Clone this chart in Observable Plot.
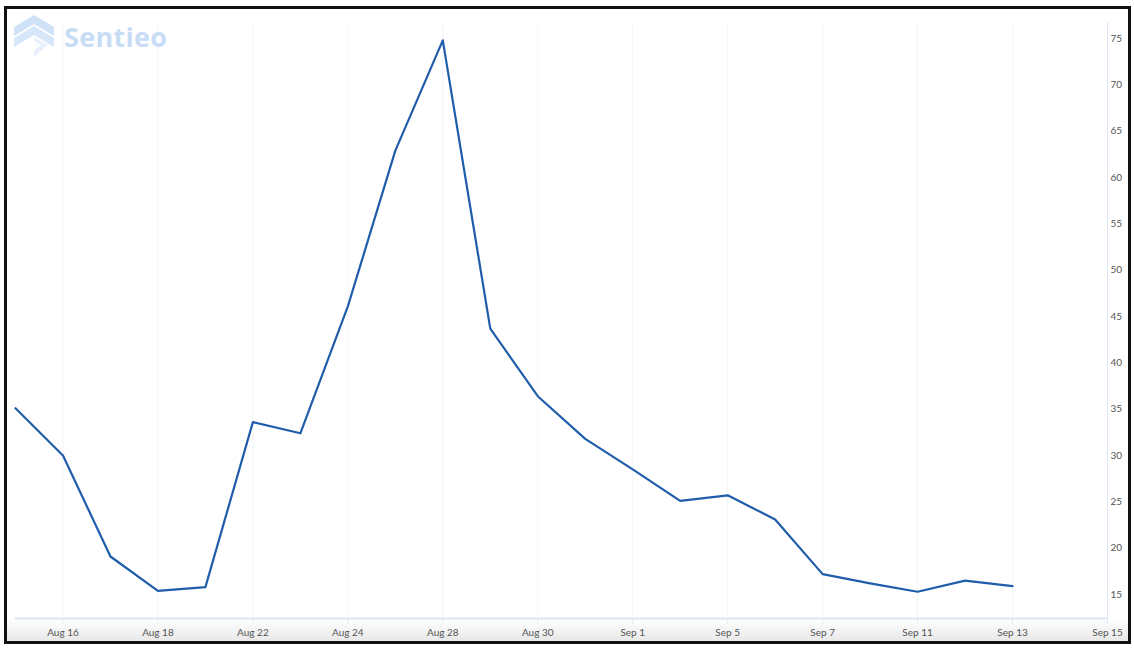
<!DOCTYPE html>
<html>
<head>
<meta charset="utf-8">
<script src="https://cdn.jsdelivr.net/npm/d3@7"></script>
<script src="https://cdn.jsdelivr.net/npm/@observablehq/plot@0.6"></script>
<style>
  html, body { margin: 0; padding: 0; background: #fff; }
  #wrap { position: relative; width: 1134px; height: 650px; overflow: hidden; font-family: Lato, "Open Sans", sans-serif; }
  #band { position: absolute; left: 7px; top: 619px; width: 1121px; height: 22px; background: linear-gradient(#ffffff, #e8e8e8); }
  #chart { position: absolute; left: 0; top: 0; }
  #frame { position: absolute; left: 4px; top: 6px; width: 1127px; height: 638px; box-sizing: border-box; border: 3px solid #111; pointer-events: none; }
  #logo { position: absolute; left: 14px; top: 13px; display: flex; align-items: center; pointer-events: none; }
  #logo span { font-family: "Open Sans", Lato, sans-serif; font-weight: 700; font-size: 27px; color: #c8dcf6; margin-left: 10px; letter-spacing: 0.3px; }
</style>
</head>
<body>
<div id="wrap">
  <div id="band"></div>
  <div id="chart"></div>
  <div id="logo">
    <svg width="40" height="46" viewBox="0 0 40 46">
      <polygon points="0,14 20,2 40,14 40,23 20,11 0,23" fill="#d0e2f8"/>
      <polygon points="0,25 20,13 40,25 40,34 20,22 0,34" fill="#d8e6f9"/>
      <polygon points="20,24 34,32 20,44 20,38 27,32 20,28" fill="#e8f0fb"/>
    </svg>
    <span>Sentieo</span>
  </div>
  <div id="frame"></div>
</div>
<script>
// Trading-day categories along the x axis
const dates = ["Aug 15","Aug 16","Aug 17","Aug 18","Aug 21","Aug 22","Aug 23","Aug 24","Aug 25","Aug 28","Aug 29","Aug 30","Aug 31","Sep 1","Sep 4","Sep 5","Sep 6","Sep 7","Sep 8","Sep 11","Sep 12","Sep 13","Sep 14","Sep 15"];
// Series values (one per trading day up to Sep 13)
const values = [35.1, 30.0, 19.1, 15.4, 15.8, 33.6, 32.4, 46.1, 62.9, 74.8, 43.7, 36.4, 31.8, 28.5, 25.1, 25.7, 23.1, 17.2, 16.2, 15.3, 16.5, 15.9];
// Tick labels
const xTicks = ["Aug 16","Aug 18","Aug 22","Aug 24","Aug 28","Aug 30","Sep 1","Sep 5","Sep 7","Sep 11","Sep 13","Sep 15"];
const yTicks = [15, 20, 25, 30, 35, 40, 45, 50, 55, 60, 65, 70, 75];

const data = values.map((v, i) => ({date: dates[i], value: v}));
const yMin = 12.41, yMax = 76.73;

const chart = Plot.plot({
  width: 1134,
  height: 650,
  marginLeft: 15,
  marginRight: 27,
  marginTop: 22,
  marginBottom: 32,
  style: { background: "transparent", fontFamily: "Lato, 'Open Sans', sans-serif", fontSize: "10px", color: "#555" },
  x: { type: "point", domain: dates, padding: 0, round: false },
  y: { domain: [yMin, yMax] },
  marks: [
    Plot.ruleX(xTicks, { stroke: "#f3f5fa", strokeWidth: 1 }),
    Plot.ruleY([yMin], { stroke: "#dde5f3", strokeWidth: 2 }),
    Plot.ruleX(["Sep 15"], { stroke: "#dfe7f5", strokeWidth: 1 }),
    Plot.axisX({ ticks: xTicks, tickSize: 6, tickPadding: 4, stroke: "#e3e9f5", fill: "#555", fontSize: 10, label: null, tickFormat: d => d }),
    Plot.axisY({ anchor: "right", ticks: yTicks, tickSize: 0, tickPadding: 3, fill: "#555", fontSize: 10, label: null }),
    Plot.line(data, { x: "date", y: "value", stroke: "#1f5dab", strokeWidth: 2.2, curve: "linear" })
  ]
});
document.getElementById("chart").appendChild(chart);
</script>
</body>
</html>
